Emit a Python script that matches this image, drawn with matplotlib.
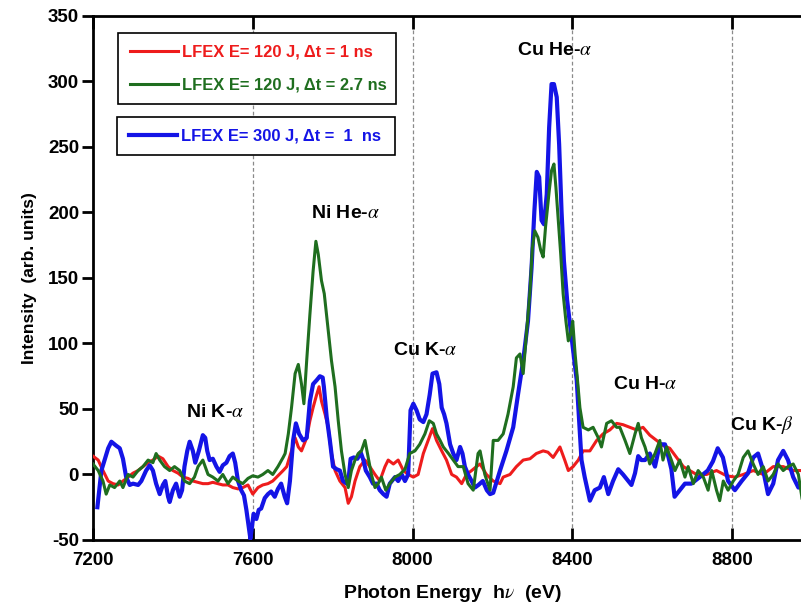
import matplotlib
matplotlib.use('Agg')
import matplotlib.pyplot as plt

plt.rcParams['font.family'] = ['Liberation Sans', 'DejaVu Sans']
plt.rcParams['mathtext.fontset'] = 'stix'
plt.rcParams['axes.unicode_minus'] = False

# 스펙트럼 데이터
red_e = [7200, 7213, 7225, 7238, 7250, 7263, 7275, 7288, 7300, 7313, 7325, 7338, 7350, 7363, 7375, 7388,
         7400, 7413, 7425, 7438, 7450, 7463, 7475, 7488, 7500, 7513, 7525, 7538, 7550, 7563, 7575, 7588,
         7600, 7613, 7625, 7638, 7650, 7663, 7676, 7685, 7697, 7706, 7714, 7722, 7735, 7743, 7751, 7760,
         7766, 7772, 7781, 7789, 7797, 7806, 7818, 7831, 7839, 7847, 7856, 7868, 7881, 7893, 7906, 7918,
         7931, 7939, 7952, 7964, 7977, 7989, 8002, 8014, 8027, 8039, 8050, 8060, 8073, 8085, 8098, 8110,
         8123, 8135, 8148, 8160, 8169, 8185, 8202, 8219, 8227, 8244, 8260, 8277, 8294, 8310, 8327, 8339,
         8352, 8369, 8381, 8390, 8402, 8415, 8427, 8444, 8461, 8477, 8494, 8511, 8527, 8544, 8561, 8577,
         8594, 8611, 8628, 8644, 8661, 8678, 8694, 8711, 8736, 8761, 8786, 8807, 8828, 8853, 8878, 8903,
         8928, 8953, 8975]
red_i = [14, 11, 3, -5, -7, -8, -5, -2, 1, 3, 6, 9, 11, 14, 12, 6,
         3, 1, -2, -3, -5, -6, -7, -7, -6, -7, -8, -8, -10, -11, -10, -8,
         -15, -10, -8, -7, -5, -1, 3, 6, 18, 28, 21, 18, 28, 41, 51, 61,
         67, 56, 46, 36, 16, 3, -5, -10, -22, -17, -5, 6, 11, 6, 0, -5,
         6, 11, 8, 11, 3, 0, -2, 0, 16, 26, 35, 26, 18, 11, 0, -2,
         -7, 0, 3, 6, 8, 0, -5, -7, -2, 0, 6, 11, 12, 16, 18, 17,
         13, 21, 11, 3, 6, 11, 18, 18, 26, 31, 34, 39, 38, 36, 34, 36,
         30, 26, 22, 20, 13, 6, 3, 0, 0, 3, -1, -2, 0, 3, 0, 6,
         6, 3, 3]

green_e = [7200, 7213, 7225, 7233, 7242, 7254, 7267, 7275, 7288, 7300, 7313, 7325, 7338, 7350, 7358, 7367,
           7379, 7392, 7404, 7417, 7429, 7442, 7454, 7463, 7475, 7488, 7500, 7513, 7525, 7538, 7550, 7563,
           7575, 7588, 7600, 7613, 7625, 7638, 7650, 7663, 7676, 7681, 7689, 7697, 7706, 7714, 7722, 7728,
           7735, 7743, 7751, 7758, 7764, 7772, 7779, 7789, 7797, 7806, 7814, 7822, 7831, 7839, 7847, 7856,
           7864, 7872, 7881, 7889, 7897, 7906, 7914, 7922, 7933, 7943, 7956, 7968, 7981, 7993, 8006, 8018,
           8031, 8042, 8052, 8060, 8069, 8077, 8090, 8102, 8114, 8127, 8139, 8152, 8164, 8169, 8181, 8194,
           8202, 8214, 8227, 8239, 8252, 8260, 8269, 8277, 8285, 8294, 8300, 8306, 8314, 8321, 8327, 8333,
           8342, 8348, 8354, 8359, 8365, 8371, 8377, 8384, 8390, 8396, 8401, 8407, 8413, 8419, 8427, 8440,
           8452, 8465, 8473, 8486, 8498, 8511, 8519, 8532, 8544, 8557, 8565, 8573, 8582, 8594, 8607, 8619,
           8627, 8636, 8648, 8657, 8669, 8682, 8690, 8703, 8715, 8728, 8740, 8749, 8761, 8769, 8778, 8790,
           8803, 8815, 8828, 8840, 8853, 8865, 8878, 8890, 8903, 8915, 8928, 8940, 8953, 8966, 8975]
green_i = [8, 3, -5, -15, -8, -10, -5, -10, 0, -2, 3, 6, 11, 9, 16, 11,
           6, 3, 6, 3, -5, -7, -2, 6, 11, 0, -2, -5, 0, -7, -2, -5,
           -7, -3, -1, -2, 0, 3, 0, 6, 13, 16, 31, 51, 77, 84, 69, 54,
           87, 122, 155, 178, 168, 148, 138, 110, 87, 67, 41, 18, 0, -10, 3, 11,
           16, 18, 26, 13, 0, -10, -7, -2, -12, -7, -2, 0, 4, 16, 18, 23,
           31, 41, 39, 31, 26, 21, 16, 11, 6, 6, -7, -12, 16, 18, 0, -12,
           26, 26, 31, 46, 67, 89, 92, 77, 107, 140, 173, 186, 181, 171, 166, 189,
           216, 232, 237, 219, 194, 168, 138, 117, 102, 107, 117, 92, 72, 51, 36, 34,
           36, 28, 21, 39, 41, 36, 36, 26, 16, 31, 39, 28, 21, 8, 16, 26,
           11, 21, 11, 3, 11, -2, 6, -7, 3, -2, -12, 3, -12, -20, -5, -12,
           -5, 0, 13, 18, 8, 0, 6, -5, 0, 8, 3, 6, 8, 0, -18]

blue_e = [7211, 7221, 7238, 7246, 7258, 7267, 7275, 7283, 7292, 7300, 7313, 7321, 7333, 7342, 7350, 7358,
          7367, 7375, 7381, 7388, 7392, 7400, 7408, 7417, 7423, 7429, 7436, 7442, 7450, 7456, 7465, 7475,
          7481, 7486, 7492, 7500, 7509, 7517, 7525, 7534, 7542, 7550, 7556, 7563, 7571, 7578, 7584, 7590,
          7594, 7598, 7602, 7609, 7615, 7621, 7630, 7638, 7646, 7655, 7663, 7671, 7680, 7686, 7693, 7701,
          7708, 7716, 7726, 7735, 7743, 7751, 7760, 7768, 7775, 7778, 7785, 7793, 7801, 7810, 7818, 7826,
          7835, 7841, 7845, 7853, 7862, 7870, 7877, 7883, 7893, 7901, 7910, 7918, 7927, 7935, 7943, 7956,
          7964, 7973, 7981, 7989, 7995, 8002, 8010, 8018, 8027, 8035, 8043, 8050, 8060, 8067, 8073, 8079,
          8085, 8094, 8102, 8110, 8119, 8125, 8131, 8139, 8148, 8156, 8165, 8176, 8186, 8194, 8202, 8219,
          8235, 8252, 8264, 8277, 8289, 8298, 8305, 8311, 8317, 8323, 8329, 8336, 8342, 8348, 8354, 8361,
          8367, 8373, 8379, 8387, 8394, 8402, 8411, 8417, 8423, 8431, 8444, 8456, 8469, 8479, 8490, 8502,
          8515, 8527, 8540, 8548, 8557, 8565, 8573, 8582, 8594, 8607, 8619, 8632, 8640, 8648, 8656, 8669,
          8682, 8698, 8719, 8739, 8752, 8764, 8777, 8790, 8807, 8824, 8840, 8853, 8865, 8878, 8890, 8903,
          8915, 8928, 8940, 8953, 8966, 8980]
blue_i = [-25, 3, 20, 25, 22, 20, 12, -2, -8, -7, -8, -5, 3, 7, 3, -7,
          -15, -8, -5, -17, -21, -12, -7, -17, -12, 6, 18, 25, 18, 9, 18, 30,
          28, 18, 11, 12, 6, 2, 7, 9, 14, 16, 9, -5, -12, -16, -27, -40,
          -49, -40, -30, -34, -27, -26, -18, -15, -13, -17, -11, -7, -17, -22, -5, 26,
          39, 31, 26, 28, 56, 69, 72, 75, 74, 67, 44, 26, 6, 4, 3, -5,
          -7, 0, 12, 13, 12, 17, 11, 3, -2, -7, -7, -12, -15, -17, -7, -2,
          -5, 0, -5, 0, 49, 54, 49, 42, 40, 46, 61, 77, 78, 69, 51, 46,
          39, 23, 16, 11, 21, 16, 6, 0, -5, -10, -8, -5, -12, -15, -14, 3,
          18, 36, 61, 87, 117, 158, 201, 231, 227, 194, 191, 214, 265, 298, 298, 288,
          252, 201, 163, 133, 115, 94, 72, 41, 11, -2, -20, -12, -10, -2, -15, -5,
          4, 0, -5, -8, 1, 14, 11, 11, 16, 6, 23, 23, 14, 4, -17, -12,
          -7, -7, -2, 3, 10, 20, 13, -5, -12, -5, 1, 13, 16, 3, -15, -7,
          11, 18, 11, -2, -10, -5]

x_ticks = [7200, 7600, 8000, 8400, 8800]
y_ticks = [-50, 0, 50, 100, 150, 200, 250, 300, 350]
guide_lines = [7600, 8000, 8400, 8800]

labels = ['LFEX E= 120 J, Δt = 1 ns', 'LFEX E= 120 J, Δt = 2.7 ns', 'LFEX E= 300 J, Δt =  1  ns']
peak_names = ['Ni K-$\\alpha$', 'Ni He-$\\alpha$', 'Cu K-$\\alpha$', 'Cu He-$\\alpha$', 'Cu H-$\\alpha$', 'Cu K-$\\beta$']
peak_x = [7505, 7831, 8031, 8356, 8582, 8875]
peak_y = [47, 199, 95, 324, 69, 38]

fig = plt.figure(figsize=(8.01, 6.10), dpi=100)
ax = fig.add_axes([0.1161, 0.1148, 0.8976, 0.859])

# 회색 점선 (기준선)
for gx in guide_lines:
    ax.axvline(gx, color='#8a8a8a', lw=0.9, ls=(0, (3, 2)), zorder=1)

l_red, = ax.plot(red_e, red_i, color='#ee1c1c', lw=2.2, zorder=3)
l_blue, = ax.plot(blue_e, blue_i, color='#1414e6', lw=3.0, zorder=4)
l_green, = ax.plot(green_e, green_i, color='#1f6e1f', lw=2.2, zorder=5)

ax.set_xlim(7200, 9000)
ax.set_ylim(-50, 350)
ax.set_xticks(x_ticks)
ax.set_yticks(y_ticks)
ax.tick_params(axis='x', direction='in', length=9, width=2, top=True, pad=9, labelsize=13.5)
ax.tick_params(axis='y', direction='out', length=8, width=2, pad=2, labelsize=13.5)
for lab in ax.get_xticklabels() + ax.get_yticklabels():
    lab.set_fontweight('bold')
for sp in ax.spines.values():
    sp.set_linewidth(2)

ax.set_xlabel('Photon Energy  h$\\nu$  (eV)', fontsize=14, fontweight='bold', labelpad=10)
ax.set_ylabel('Intensity  (arb. units)', fontsize=12.5, fontweight='bold', labelpad=8)

# 피크 이름
for name, px, py in zip(peak_names, peak_x, peak_y):
    ax.text(px, py, name, ha='center', va='center', fontsize=14, fontweight='bold', zorder=6)

# 범례 두 개 (상자 따로)
leg_kw = dict(loc='upper left', mode='expand', borderaxespad=0, fancybox=False, framealpha=1,
              edgecolor='black', handlelength=2.9, handletextpad=0.25, borderpad=0.7,
              labelspacing=1.1, labelcolor='linecolor', prop={'weight': 'bold', 'size': 11.9})
leg1 = ax.legend([l_red, l_green], labels[:2], bbox_to_anchor=(0.0348, 0.5, 0.387, 0.4676), **leg_kw)
leg1.get_frame().set_linewidth(1.2)
ax.add_artist(leg1)
leg2 = ax.legend([l_blue], labels[2:], bbox_to_anchor=(0.0334, 0.3, 0.387, 0.507), **leg_kw)
leg2.get_frame().set_linewidth(1.2)

fig.savefig('out.png', dpi=100)
